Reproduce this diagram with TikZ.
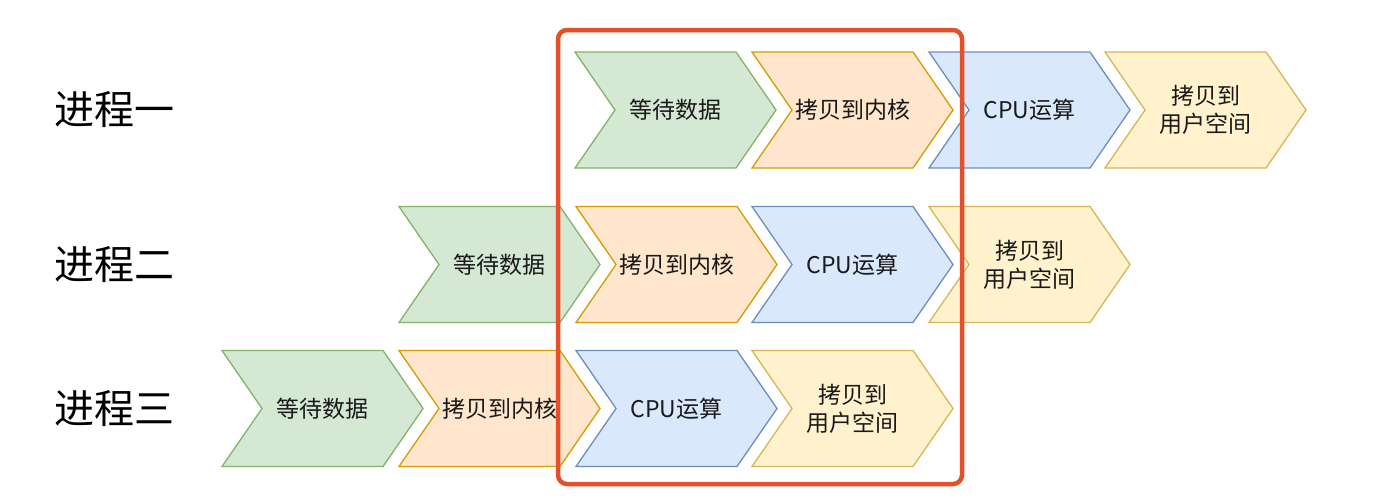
\documentclass[tikz,border=0pt]{standalone}
\usepackage{fontspec}
\setmainfont{Noto Sans CJK SC}
\newfontfamily\cjk{Noto Sans CJK SC}
\definecolor{gfill}{HTML}{D5E8D4}\definecolor{gline}{HTML}{82B366}
\definecolor{ofill}{HTML}{FFE6CC}\definecolor{oline}{HTML}{D79B00}
\definecolor{bfill}{HTML}{DAE8FC}\definecolor{bline}{HTML}{6C8EBF}
\definecolor{yfill}{HTML}{FFF2CC}\definecolor{yline}{HTML}{D6B656}
\definecolor{hl}{HTML}{E5502A}
\tikzset{
  gst/.style={fill=gfill,draw=gline,line width=1.3pt,line join=miter},
  ost/.style={fill=ofill,draw=oline,line width=1.3pt,line join=miter},
  bst/.style={fill=bfill,draw=bline,line width=1.3pt,line join=miter},
  yst/.style={fill=yfill,draw=yline,line width=1.3pt,line join=miter},
  lbl/.style={font=\cjk\fontsize{23}{28}\selectfont,text=black!90,align=center,inner sep=0pt},
  rowlbl/.style={font=\cjk\fontsize{40}{42}\selectfont,text=black,anchor=west,inner sep=0pt},
  hlbox/.style={draw=hl,line width=4.5pt,rounded corners=9pt}
}
\newcommand\chev[5]{%
  \draw[#4] (#2,#3-58) -- ++(161,0) -- ++(40,58) -- ++(-40,58) -- ++(-161,0) -- ++(40,-58) -- cycle;
  \node[lbl] (#1) at (#2+100.5,#3) {#5};
}
\begin{document}
\begin{tikzpicture}[x=1pt,y=-1pt]
\useasboundingbox[fill=white] (0,0) rectangle (1400,498);
\node[rowlbl] (p1) at (54,110) {进程一};
\node[rowlbl] (p2) at (54,265) {进程二};
\node[rowlbl] (p3) at (54,409) {进程三};
% row 1
\chev{a1}{575}{110}{gst}{等待数据}
\chev{a2}{752}{110}{ost}{拷贝到内核}
\chev{a3}{929}{110}{bst}{CPU运算}
\chev{a4}{1105}{110}{yst}{拷贝到\\用户空间}
% row 2
\chev{b1}{399}{264.5}{gst}{等待数据}
\chev{b2}{576}{264.5}{ost}{拷贝到内核}
\chev{b3}{752}{264.5}{bst}{CPU运算}
\chev{b4}{929}{264.5}{yst}{拷贝到\\用户空间}
% row 3
\chev{c1}{222}{408.5}{gst}{等待数据}
\chev{c2}{399}{408.5}{ost}{拷贝到内核}
\chev{c3}{576}{408.5}{bst}{CPU运算}
\chev{c4}{752}{408.5}{yst}{拷贝到\\用户空间}
\draw[hlbox] (558,30) rectangle (962,484);
\end{tikzpicture}
\end{document}
